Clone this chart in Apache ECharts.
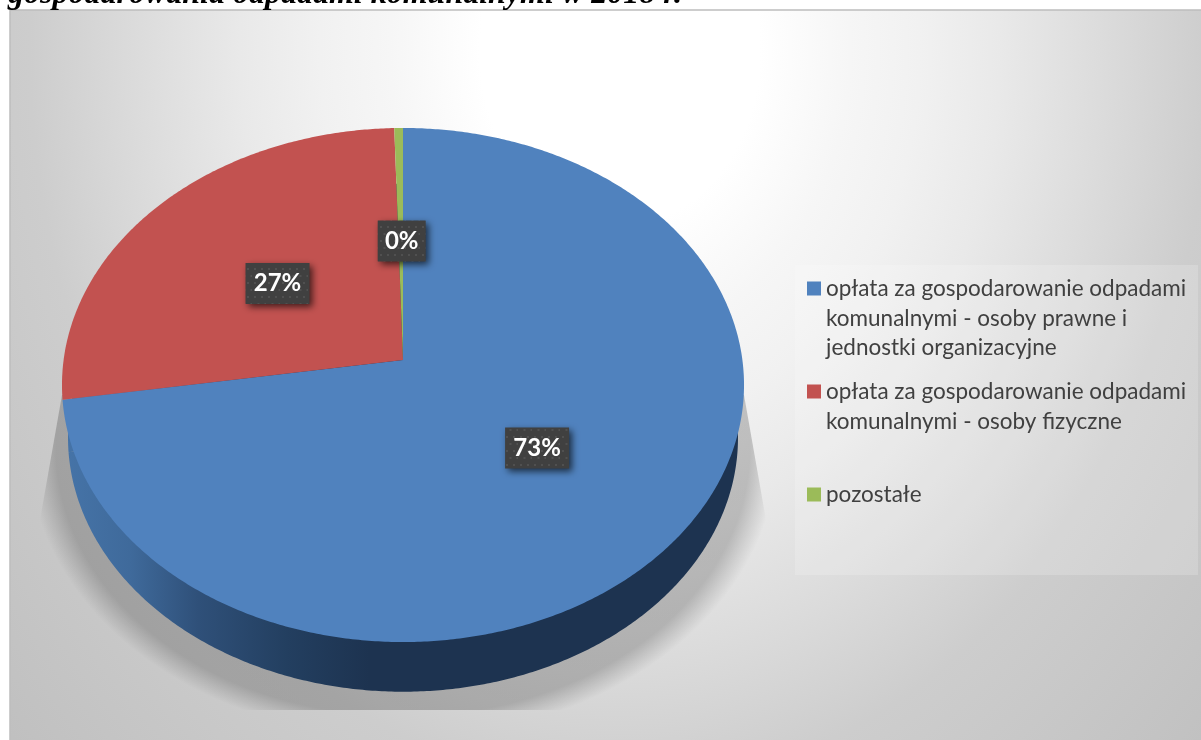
<!DOCTYPE html>
<html><head><meta charset="utf-8">
<style>html,body{margin:0;padding:0;background:#fff}#c{width:1201px;height:740px}</style>
<script src="https://cdn.jsdelivr.net/npm/echarts@6/dist/echarts.min.js"></script>
</head><body><div id="c"></div>
<script>
// ---- data ----
const categories = [
  'opłata za gospodarowanie odpadami komunalnymi - osoby prawne i jednostki organizacyjne',
  'opłata za gospodarowanie odpadami komunalnymi - osoby fizyczne',
  'pozostałe'
];
const shares = [72.55, 27.0, 0.45];
const legendText = [
  'opłata za gospodarowanie odpadami\nkomunalnymi - osoby prawne i\njednostki organizacyjne',
  'opłata za gospodarowanie odpadami\nkomunalnymi - osoby fizyczne\n',
  'pozostałe\n\n'
];
const titleText = 'gospodarowania odpadami komunalnymi w 2018 r.';
// ---- styles ----
const faceColors = ['#5082be', '#c25250', '#9bbb59'];
const sideStops = [[0.0,'#4674a8'],[0.1,'#3f6a9b'],[0.2,'#2f5079'],[0.33,'#233f60'],[0.45,'#1d3350'],[1,'#1d3350']];
const FONT = 'Lato';
const topLevel = {cx:403, cy:360, sx:339.4, sy:254.6, k:0.0973};
const botLevel = {cx:403, cy:413, sx:333.4, sy:251.6, k:0.0973};
const total = shares.reduce((a,b)=>a+b,0);

function project(l, deg, f){
  const t = deg*Math.PI/180, x = Math.sin(t)*f, z = Math.cos(t)*f, d = 1+l.k*z;
  return [l.cx + l.sx*x/d, l.cy - l.sy*z/d];
}
function sector(l, a0, a1){
  const pts = [[l.cx,l.cy]], n = Math.max(2, Math.ceil((a1-a0)*2));
  for(let i=0;i<=n;i++) pts.push(project(l, a0+(a1-a0)*i/n, 1));
  return pts;
}
// dotted label background
const pat = document.createElement('canvas'); pat.width=14; pat.height=14;
(function(){const g=pat.getContext('2d');g.fillStyle='#404040';g.fillRect(0,0,14,14);
  g.fillStyle='#505050';[[2,2],[9,2],[5.5,9],[12.5,9]].forEach(p=>g.fillRect(p[0],p[1],2,2));})();

function makeSeries(idx){
  let before = 0; for(let i=0;i<idx;i++) before += shares[i];
  const a0 = before/total*360, a1 = (before+shares[idx])/total*360;
  return {
    type:'custom', name:categories[idx], coordinateSystem:'none', silent:true,
    itemStyle:{color:faceColors[idx]}, data:[shares[idx]], animation:false,
    renderItem(){
      const p = project(topLevel,(a0+a1)/2,0.5), c = [p[0]+1, p[1]+2.5];
      const txt = Math.round(shares[idx])+'%';
      const w = txt.length>2?64:48, h = 41;
      return {type:'group', children:[
        {type:'polygon', z2:1, shape:{points:sector(botLevel,a0,a1)},
         style:{fill:new echarts.graphic.LinearGradient(62,0,744,0,
           sideStops.map(s=>({offset:s[0],color:s[1]})),true)}},
        {type:'polygon', z2:5, shape:{points:sector(topLevel,a0,a1)}, style:{fill:faceColors[idx]}},
        {type:'rect', z2:20, shape:{x:c[0]-w/2,y:c[1]-h/2,width:w,height:h},
         style:{fill:{image:pat,repeat:'repeat'},shadowBlur:7,shadowOffsetX:3,shadowOffsetY:3,shadowColor:'rgba(0,0,0,0.65)'}},
        {type:'text', z2:21, style:{x:c[0],y:c[1],text:txt,fill:'#fff',font:'bold 24px '+FONT,align:'center',verticalAlign:'middle'}}
      ]};
    }
  };
}

const bgScale = 1.25, bgR = 820, shScale = 290/375;
const bgStops = [[0,'#ffffff'],[140,'#ffffff'],[230,'#f6f6f6'],[300,'#f1f1f1'],[380,'#e9e9e9'],[480,'#dcdcdc'],[590,'#cdcdcd'],[820,'#c0c0c0']];
const sh = y => y/shScale;
const chart = echarts.init(document.getElementById('c'),null,{renderer:'canvas'});
chart.setOption({
  animation:false,
  backgroundColor:'#ffffff',
  legend:{
    orient:'vertical', left:802, top:269, itemWidth:14, itemHeight:88.5, itemGap:14.5,
    icon:'path://M0 7.5H14V21.5H0Z M0 0L0 0.01 M14 88.5L14 88.49',
    selectedMode:false,
    itemStyle:{borderWidth:0},
    data:categories,
    formatter:n=>legendText[categories.indexOf(n)],
    textStyle:{fontFamily:FONT,fontSize:22.5,lineHeight:29.5,color:'#404040'}
  },
  graphic:{elements:[
    {type:'rect', z:0, silent:true, scaleY:bgScale,
     shape:{x:10,y:10/bgScale,width:1195,height:735/bgScale},
     style:{fill:new echarts.graphic.RadialGradient(620,50/bgScale,bgR,
       bgStops.map(s=>({offset:s[0]/bgR,color:s[1]})),true)}},
    {type:'rect', z:0, silent:true, shape:{x:10,y:10,width:1300,height:900},
     style:{fill:'none',stroke:'#bdbdbd',lineWidth:1.5}},
    {type:'polygon', z:1, silent:true, scaleY:shScale,
     shape:{points:[[62,sh(395)],[40,sh(520)],[40,sh(710)],[766,sh(710)],[766,sh(520)],[744,sh(395)]]},
     style:{fill:new echarts.graphic.RadialGradient(403,sh(448),375,[
       {offset:0,color:'rgba(0,0,0,0.2)'},{offset:0.925,color:'rgba(0,0,0,0.2)'},
       {offset:0.965,color:'rgba(0,0,0,0.09)'},{offset:1,color:'rgba(0,0,0,0)'}],true)}},
    {type:'rect', z:1, silent:true, shape:{x:795,y:265,width:403,height:310},
     style:{fill:'rgba(255,255,255,0.18)'}},
    {type:'text', z:1, silent:true, style:{x:8,y:-21,text:titleText,fill:'#000',
      font:'italic bold 32px "Liberation Serif"'}}
  ]},
  series:[makeSeries(0),makeSeries(1),makeSeries(2)]
});
</script></body></html>
